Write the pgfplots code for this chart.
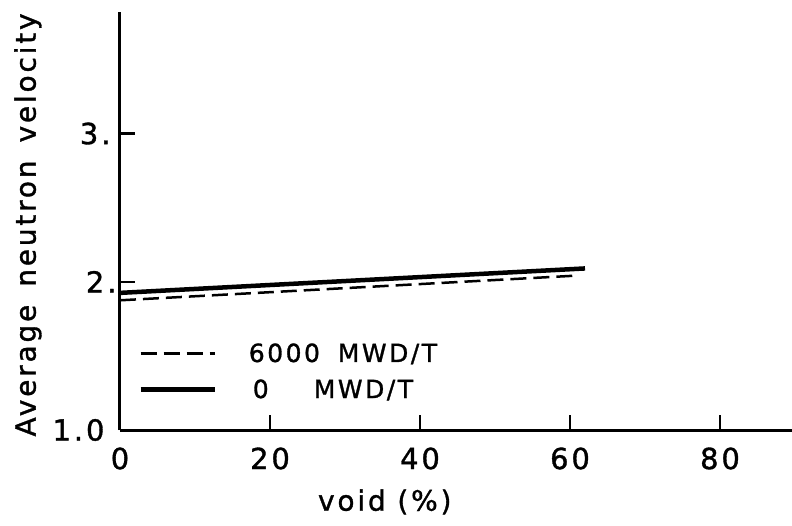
\documentclass[border=0pt]{standalone}
\usepackage{fontspec}
\setmainfont{DejaVu Sans}
\newfontfamily\lett[LetterSpace=10,FakeBold=1.2]{DejaVu Sans}
\usepackage{pgfplots}
\pgfplotsset{compat=1.18}
\begin{document}
\begin{tikzpicture}
\useasboundingbox (-120pt,-95pt) rectangle (672pt,430pt);
\begin{axis}[
  at={(0,0)}, anchor=south west,
  scale only axis, width=672pt, height=418pt,
  xmin=0, xmax=89.6, ymin=1, ymax=3.82,
  axis x line=bottom, axis y line=left,
  axis line style={line width=3pt,-},
  xtick={0,20,40,60,80},
  ytick={1,2,3},
  yticklabels={1.0\rule{12pt}{0pt},2.,3.\rule{6pt}{0pt}},
  tick align=inside, major tick length=15pt,
  tick style={line width=2.5pt,black},
  /pgf/number format/assume math mode=true,
  ticklabel style={font=\lett\fontsize{29}{31}\selectfont},
  xticklabel style={yshift=-14pt},
  xlabel={void (\%)},
  ylabel={Average\hspace{18pt}neutron\hspace{18pt}velocity},
  label style={font=\lett\fontsize{28}{30}\selectfont},
  xlabel style={at={(axis description cs:0.394,-0.172)}, anchor=center},
  ylabel style={at={(axis description cs:-0.137,-0.024)}, anchor=west},
  legend style={at={(axis description cs:0.027,0.14)}, anchor=west,
    draw=none, fill=none, inner sep=0pt, row sep=12pt,
    font=\lett\fontsize{25}{27}\selectfont},
  legend cell align=left,
  legend image code/.code={\draw[#1] (0pt,0pt) -- (74pt,0pt);},
]
\addplot[black, line width=2.5pt, dash pattern=on 16pt off 7pt]
  coordinates {(0,1.875) (60.3,2.04)};
\addlegendentry{\hspace{30pt}\makebox[89pt][l]{6000}MWD/T}
\addplot[black, line width=4.5pt]
  coordinates {(0,1.925) (62,2.09)};
\addlegendentry{\hspace{30pt}\makebox[65pt][l]{\hspace{4pt}0}MWD/T}
\end{axis}
\end{tikzpicture}
\end{document}
